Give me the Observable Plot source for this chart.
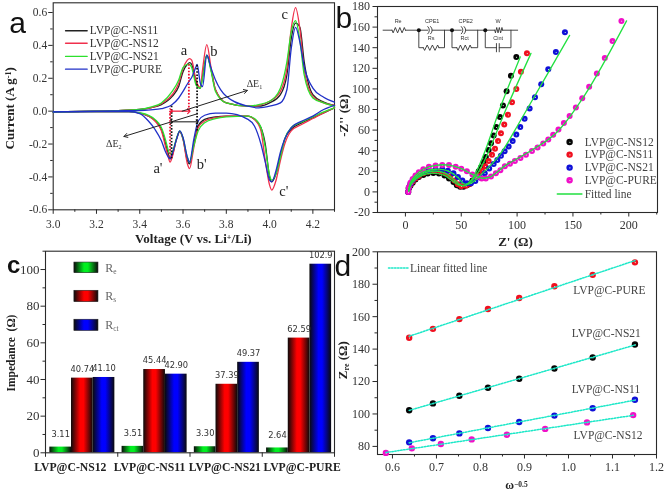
<!DOCTYPE html>
<html>
<head>
<meta charset="utf-8">
<script src="https://cdn.jsdelivr.net/npm/d3@7"></script>
<script src="https://cdn.jsdelivr.net/npm/@observablehq/plot@0.6"></script>
<style>
html,body{margin:0;padding:0;background:#fff}
#root{position:relative;width:664px;height:494px;overflow:hidden;filter:blur(.3px)}
#root svg{position:absolute;overflow:visible;background:transparent}
</style>
</head>
<body>
<div id="root"></div>
<script>
// ---------- panel a: cyclic voltammetry ----------
const anodicV = [3.0,3.2,3.3,3.4,3.45,3.5,3.55,3.58,3.6,3.62,3.63,3.64,3.66,3.665,3.68,3.69,3.71,3.73,3.75,3.8,3.9,3.95,4.0,4.05,4.08,4.1,4.12,4.14,4.16,4.2,4.25,4.3];
const anodicNS11 = [-.005,0,.003,.01,.02,.04,.09,.15,.24,.285,.295,.285,.18,.16,.14,.21,.34,.25,.13,.05,.03,.03,.05,.1,.22,.44,.535,.51,.3,.1,.055,.035];
const anodicNS12 = [-.005,0,.003,.01,.02,.045,.1,.17,.26,.31,.32,.31,.19,.17,.145,.25,.405,.26,.13,.05,.03,.035,.06,.12,.26,.5,.63,.5,.25,.09,.05,.035];
const anodicNS21 = [-.005,0,.003,.01,.025,.05,.12,.19,.265,.285,.285,.265,.16,.15,.14,.2,.34,.24,.12,.05,.03,.04,.06,.14,.3,.48,.55,.43,.22,.08,.05,.03];
const anodicPURE = [-.005,0,.002,.004,.008,.015,.04,.08,.12,.165,.185,.205,.27,.285,.17,.15,.34,.26,.19,.09,.03,.02,.03,.05,.13,.38,.51,.42,.27,.14,.085,.055];
const cathodicV = [3.0,3.2,3.35,3.4,3.44,3.47,3.5,3.52,3.53,3.54,3.55,3.57,3.585,3.6,3.62,3.63,3.65,3.67,3.7,3.75,3.8,3.9,3.93,3.96,3.98,4.0,4.01,4.03,4.05,4.07,4.1,4.15,4.2,4.25,4.3];
const cathodicNS11 = [-.005,-.003,-.003,-.012,-.03,-.055,-.11,-.2,-.25,-.29,-.27,-.17,-.125,-.17,-.3,-.32,-.2,-.09,-.05,-.035,-.03,-.03,-.05,-.1,-.2,-.4,-.43,-.38,-.27,-.17,-.11,-.07,-.04,-.01,.02];
const cathodicNS12 = [-.005,-.003,-.003,-.012,-.03,-.06,-.12,-.22,-.27,-.31,-.28,-.17,-.125,-.17,-.32,-.35,-.22,-.1,-.06,-.04,-.03,-.03,-.05,-.12,-.3,-.45,-.48,-.42,-.3,-.2,-.12,-.08,-.045,-.01,.02];
const cathodicNS21 = [-.005,-.003,-.003,-.01,-.025,-.05,-.1,-.18,-.23,-.26,-.25,-.165,-.12,-.165,-.28,-.31,-.21,-.12,-.07,-.045,-.035,-.03,-.045,-.1,-.22,-.39,-.42,-.38,-.28,-.17,-.1,-.065,-.035,-.005,.02];
const cathodicPURE = [-.005,-.003,-.002,-.015,-.06,-.11,-.18,-.25,-.275,-.29,-.26,-.17,-.12,-.16,-.28,-.31,-.17,-.06,-.025,-.012,-.012,-.05,-.09,-.2,-.31,-.42,-.43,-.36,-.25,-.17,-.1,-.06,-.03,.01,.035];
const cvNames = ["LVP@C-NS11","LVP@C-NS12","LVP@C-NS21","LVP@C-PURE"];
const cvColors = ["#222222","#f0304c","#2de02d","#2030c8"];
const cvAnodic = [anodicNS11,anodicNS12,anodicNS21,anodicPURE];
const cvCathodic = [cathodicNS11,cathodicNS12,cathodicNS21,cathodicPURE];
const cvLegendY = [.489,.413,.333,.255];
const cvPeakText = [["a",3.604,.369],["b",3.743,.365],["c",4.07,.59],["a'",3.484,-.35],["b'",3.686,-.325],["c'",4.066,-.486]];

// ---------- panel b: Nyquist ----------
const nyNames = ["LVP@C-NS12","LVP@C-NS11","LVP@C-NS21","LVP@C-PURE"];
const nyBalls = ["ballK","ballR","ballB","ballM"];
const nyNS12 = [[2.5,0],[3,3],[4.5,6],[6.5,9],[9,12],[12,14.5],[16,16.5],[20,17.8],[25,18.3],[30,17.8],[35,16],[39,13],[43,9.5],[46,6.5],[49,5],[52,5],[55,6.5],[57,7.5],[60,11],[63,15.6],[65.6,20],[67.7,24],[70,29],[72,34],[74.5,40.7],[76.6,47.2],[79,54.7],[81.4,62.9],[84.6,72.6],[87.3,84],[90.6,97.7],[94.5,112.7],[99.3,131]];
const nyNS11 = [[2.5,0],[3,3.5],[4.5,7],[6.5,10],[9,13],[12,15.5],[16,18],[21,19.7],[26,20.3],[31,19.8],[36,18],[40,15],[44,11],[47,7.5],[50,5.5],[54.2,5.9],[58,8],[61.7,11.4],[65.3,15.6],[68.6,20.5],[71.5,25],[74.5,30],[77.5,36],[80.2,42],[82.9,49.5],[85.5,57],[88.5,65.5],[91.8,75],[95.4,87],[99.3,100],[103.4,116.6],[108.8,134.5]];
const nyNS21 = [[2.5,0],[3,4],[4.5,8],[6.5,11.5],[9,14.5],[12,17],[16,19.5],[21,21.3],[27,22],[33,22],[38,20.5],[43,18],[47,14.5],[51,11],[55,8.5],[58.7,8.5],[62.6,10.7],[66.8,14],[71,18],[75,22.8],[79,27],[82.3,31],[85.5,35],[88.8,39.4],[92.4,44],[96,49.5],[99.3,55.7],[102.8,63],[106.7,71],[111.2,81],[116,92],[121.6,104.5],[127.9,119],[134.7,135.8],[142.8,155]];
const nyPURE = [[2.5,0],[3,4.5],[4.5,9],[6.5,12.5],[9,16],[12,19],[16,22],[21,24.3],[27,25.7],[33,26.2],[39,26],[45,24.5],[50,22.5],[55,20],[60,17],[64,14.5],[68.3,13],[72,13],[76.6,15],[81,18],[85,21],[89,24.8],[93.6,27.4],[98,30],[103,33],[107.9,36],[113.3,39.7],[118.3,43],[123.4,47],[127.9,50.8],[132.3,55.4],[137,60.6],[141.9,66.8],[147,73.6],[152.6,82],[158.3,91],[164.5,102],[171.4,115],[178.5,130],[185.4,146.6],[193.4,166]];
const fitNS12 = [[3,1],[4.5,6],[9,12],[16,16.5],[25,18.3],[35,16],[43,10],[48,6.5],[52.8,6],[60,13],[70,36],[85,82],[102.8,131]];
const fitNS11 = [[3,1],[4.5,7],[9,13],[16,18],[26,20.3],[36,18],[44,11.5],[49,7],[53,6],[62,14],[72,33],[88,75],[112.4,134.5]];
const fitNS21 = [[3,1],[4.5,8],[9,14.5],[16,19.5],[27,22],[38,20.5],[47,14],[52,8],[58,8],[68,17],[85,37],[105,73],[147,152]];
const fitPURE = [[3,1],[4.5,9],[9,16],[16,22],[27,25.7],[39,26],[50,22.5],[60,17],[68,13.5],[75,14],[90,26],[110,38.5],[134.7,57],[160,93],[198,166]];
const nyFits = [fitNS12,fitNS11,fitNS21,fitPURE];
const nyLegendY = [48.5,36.2,23.6,11.3];

// ---------- panel c: impedance bars ----------
const impSamples = ["LVP@C-NS12","LVP@C-NS11","LVP@C-NS21","LVP@C-PURE"];
const impRe = [3.11,3.51,3.30,2.64];
const impRs = [40.74,45.44,37.39,62.59];
const impRct = [41.10,42.90,49.37,102.9];
const impLabels = [["3.11","40.74","41.10"],["3.51","45.44","42.90"],["3.30","37.39","49.37"],["2.64","62.59","102.9"]];
const impSeries = ["R_{e}","R_{s}","R_{ct}"];
const impFills = ["url(#barG)","url(#barR)","url(#barB)"];
const impLabelShift = [-12,-5,-2,3];

// ---------- panel d: Warburg fits ----------
const wOmegaA = [.638,.692,.752,.817,.888,.968,1.055,1.151];
const wOmegaB = [.585,.644,.71,.78,.86,.947,1.042,1.147];
const wPURE = [147,152.5,158.5,164.7,171.5,178.8,185.8,193.5];
const wNS21 = [102.3,106.5,111.2,116.2,121.7,128,134.8,142.8];
const wNS11 = [82.5,85,88,91.3,95,99,103.5,108.8];
const wNS12 = [76,78.8,81.5,84.3,87.2,90.8,94.8,99.3];
const wLabels = [["LVP@C-PURE",1.093,176.3],["LVP@C-NS21",1.086,150],["LVP@C-NS11",1.085,115],["LVP@C-NS12",1.09,86.6]];

// ---------- shared ----------
const serif = "Liberation Serif";
const ink = "#2a2a2a";
const root = document.getElementById("root");

// gradients
const NS = "http://www.w3.org/2000/svg";
const defsSvg = d3.select(root).append("svg").attr("width",0).attr("height",0);
const defs = defsSvg.append("defs");
[["barG","#00f020"],["barR","#ff0000"],["barB","#0000ff"]].forEach(([id,c])=>{
  const g = defs.append("linearGradient").attr("id",id).attr("x1",0).attr("x2",1).attr("y1",0).attr("y2",0);
  g.append("stop").attr("offset","0").attr("stop-color","#0a0a0a");
  g.append("stop").attr("offset",".42").attr("stop-color",c);
  g.append("stop").attr("offset",".58").attr("stop-color",c);
  g.append("stop").attr("offset","1").attr("stop-color","#0a0a0a");
});
[["ballK","#050505"],["ballR","#f01020"],["ballB","#1010d8"],["ballM","#f010c8"]].forEach(([id,c])=>{
  const g = defs.append("radialGradient").attr("id",id).attr("cx",.55).attr("cy",.55).attr("r",.55);
  g.append("stop").attr("offset","0").attr("stop-color","#d8ffe0");
  g.append("stop").attr("offset",".28").attr("stop-color",c);
  g.append("stop").attr("offset","1").attr("stop-color",c);
});

function rich(svg){
  svg.querySelectorAll("text").forEach(t=>{
    const s = t.textContent;
    if(!/[\^_]\{/.test(s)) return;
    t.textContent = "";
    s.split(/([\^_]\{[^}]*\})/).forEach(p=>{
      if(!p) return;
      const sp = document.createElementNS(NS,"tspan");
      const m = p.match(/^([\^_])\{([^}]*)\}$/);
      if(m){
        sp.textContent = m[2];
        sp.setAttribute("font-size","0.62em");
        sp.setAttribute("baseline-shift", m[1]==="^" ? "35%" : "-25%");
      } else sp.textContent = p;
      t.appendChild(sp);
    });
  });
}

function place(svg,left,top){
  svg.style.left = left+"px";
  svg.style.top = top+"px";
  rich(svg);
  root.appendChild(svg);
}

const axes = (xT,xM,yT,yM,xF,yF,size,xPad=3,yPad=3) => [
  Plot.axisX({ticks:xM,tickSize:2.5,fill:"none",label:null,stroke:ink}),
  Plot.axisY({ticks:yM,tickSize:2.5,fill:"none",label:null,stroke:ink}),
  Plot.axisX({ticks:xT,tickSize:4.5,tickPadding:xPad,tickFormat:xF,label:null,stroke:ink,fill:"#333",fontSize:size}),
  Plot.axisY({ticks:yT,tickSize:4.5,tickPadding:yPad,tickFormat:yF,label:null,stroke:ink,fill:"#333",fontSize:size}),
  Plot.frame({stroke:ink,strokeWidth:1.1})
];
const big = (t,dx,dy,weight,size) => Plot.text([t],{text:d=>d,frameAnchor:"top-left",dx,dy,textAnchor:"start",lineAnchor:"bottom",fontFamily:"Liberation Sans",fontWeight:weight,fontSize:size,fill:"#111"});
const yTitle = (t,dx,dy,size) => Plot.text([t],{text:d=>d,frameAnchor:"left",textAnchor:"middle",dx,dy,rotate:-90,fontWeight:"bold",fontSize:size,fill:"#222"});
const f1 = d=>d.toFixed(1), f0 = d=>String(d);

// ---------- a ----------
const cvRows = [];
cvNames.forEach((n,i)=>{
  anodicV.forEach((v,k)=>cvRows.push({n,branch:n+"+",v,i:cvAnodic[i][k]}));
  cathodicV.forEach((v,k)=>cvRows.push({n,branch:n+"-",v,i:cvCathodic[i][k]}));
});
const arrowRows = [{x1:3.596,y1:0,x2:3.897,y2:.126},{x1:3.666,y1:-.016,x2:3.327,y2:-.154}];
const panelA = Plot.plot({
  width:340,height:250,marginLeft:52.7,marginRight:6,marginTop:2.3,marginBottom:40.7,
  style:{fontFamily:serif,fontSize:"11.5px",background:"transparent"},
  x:{domain:[3,4.3]},y:{domain:[-.6,.659]},
  marks:[
    ...axes(d3.range(3,4.21,.2),d3.range(3.1,4.31,.2),d3.range(-.6,.61,.2),d3.range(-.5,.65,.2),f1,d=>Math.abs(d)<1e-6?"0.0":d.toFixed(1),11.5,6,1.5),
    ...cvNames.map((n,i)=>Plot.line(cvRows.filter(d=>d.n===n),{x:"v",y:"i",z:"branch",stroke:cvColors[i],strokeWidth:1.3,curve:"monotone-x"})),
    Plot.ruleX([3.627],{y1:0,y2:.29,stroke:"#f01030",strokeWidth:1.8,strokeDasharray:"1.6 1.6"}),
    Plot.ruleX([3.665],{y1:-.12,y2:.28,stroke:"#111",strokeWidth:1.8,strokeDasharray:"1.6 1.6"}),
    Plot.ruleX([3.54],{y1:0,y2:-.28,stroke:"#f01030",strokeWidth:1.8,strokeDasharray:"1.6 1.6"}),
    Plot.ruleX([3.547],{y1:.03,y2:-.29,stroke:"#111",strokeWidth:1.8,strokeDasharray:"1.6 1.6"}),
    Plot.link([{x1:3.545,x2:3.627,y:0}],{x1:"x1",x2:"x2",y1:"y",y2:"y",stroke:"#f01030",strokeWidth:1.2,markerStart:"arrow",markerEnd:"arrow"}),
    Plot.link([{x1:3.547,x2:3.665,y:-.065}],{x1:"x1",x2:"x2",y1:"y",y2:"y",stroke:"#111",strokeWidth:1,markerStart:"arrow",markerEnd:"arrow"}),
    Plot.arrow(arrowRows,{x1:"x1",y1:"y1",x2:"x2",y2:"y2",bend:0,stroke:"#222",strokeWidth:1,headLength:6}),
    Plot.text(["ΔE_{1}"],{x:3.93,y:.166,text:d=>d,fontSize:10,fill:"#333"}),
    Plot.text(["ΔE_{2}"],{x:3.28,y:-.2,text:d=>d,fontSize:10,fill:"#333"}),
    Plot.text(cvPeakText,{x:d=>d[1],y:d=>d[2],text:d=>d[0],fontSize:14.5,fill:"#222"}),
    ...cvNames.map((n,i)=>Plot.line([[3.057,cvLegendY[i]],[3.157,cvLegendY[i]]],{stroke:cvColors[i],strokeWidth:1.3})),
    Plot.text(cvNames.map((n,i)=>[n,cvLegendY[i]]),{x:3.169,y:d=>d[1],text:d=>d[0],textAnchor:"start",fontSize:11.5,fill:"#333"}),
    Plot.text(["Voltage (V vs. Li^{+}/Li)"],{text:d=>d,frameAnchor:"bottom",dx:-0.5,dy:33,fontWeight:"bold",fontSize:13,fill:"#222"}),
    yTitle("Current (A g^{-1})",-43.5,2,13),
    big("a",-44,30,"normal",30)
  ]
});
place(panelA,0,0);

// ---------- b ----------
const zig = (x0,x1,y,id) => {
  const n = 6, pts = [[x0,y]];
  for(let k=0;k<n;k++) pts.push([x0+(x1-x0)*(k+.5)/n, y+(k%2?2.6:-2.6)]);
  pts.push([x1,y]);
  return {id,pts};
};
const paren = (x,y,id) => ({id,pts:[[x,y+3.5],[x+1,y+2],[x+1.4,y],[x+1,y-2],[x,y-3.5]]});
const circuit = [
  {id:"w1",pts:[[-20,157],[-12,157]]}, zig(-12,0,157,"re"), {id:"w2",pts:[[0,157],[20,157]]},
  paren(20,157,"c1a"), paren(22.5,157,"c1b"), {id:"w3",pts:[[24,157],[50,157]]},
  paren(50,157,"c2a"), paren(52.5,157,"c2b"), {id:"w4",pts:[[54,157],[80,157]]},
  zig(80,87,157,"w"), {id:"w5",pts:[[87,157],[100.5,157]]},
  {id:"b1",pts:[[12,157],[12,140],[16,140]]}, zig(16,30,140,"rs"), {id:"b2",pts:[[30,140],[35,140],[35,157]]},
  {id:"b3",pts:[[41.7,157],[41.7,140],[46,140]]}, zig(46,59,140,"rct"), {id:"b4",pts:[[59,140],[64.7,140],[64.7,157]]},
  {id:"b5",pts:[[71.5,157],[71.5,140],[81.5,140]]}, {id:"p1",pts:[[81.5,136],[81.5,144]]}, {id:"p2",pts:[[84,136],[84,144]]}, {id:"b6",pts:[[84,140],[94.5,140],[94.5,157]]}
];
const circuitRows = circuit.flatMap(c=>c.pts.map(p=>({id:c.id,x:p[0],y:p[1]})));
const circuitNames = [["Re",-6.5,166],["CPE1",24,166],["Rs",23,149],["CPE2",54,166],["Rct",53,149],["W",83,166],["Cint",83,149]];
const circuitNodes = [12,41.7,71.5];
const panelB = Plot.plot({
  width:332,height:250,marginLeft:45,marginRight:7,marginTop:6,marginBottom:38,
  style:{fontFamily:serif,fontSize:"12px",background:"transparent"},
  x:{domain:[-25,225.7]},y:{domain:[-20,180]},
  marks:[
    ...axes(d3.range(0,201,50),d3.range(25,226,50),d3.range(-20,181,20),d3.range(-10,171,20),f0,f0,12),
    Plot.line(circuitRows,{x:"x",y:"y",z:"id",stroke:"#333",strokeWidth:.9}),
    Plot.dot(circuitNodes,{x:d=>d,y:157,r:2,fill:"#111"}),
    Plot.text(circuitNames,{x:d=>d[1],y:d=>d[2],text:d=>d[0],fontFamily:"Liberation Sans",fontSize:5.5,fill:"#333"}),
    ...[nyNS12,nyNS11,nyNS21,nyPURE].map((s,i)=>Plot.dot(s,{x:d=>d[0],y:d=>d[1],r:3,fill:`url(#${nyBalls[i]})`})),
    ...nyFits.map(s=>Plot.line(s,{x:d=>d[0],y:d=>d[1],stroke:"#22e040",strokeWidth:1.3,curve:"catmull-rom"})),
    ...nyNames.map((n,i)=>Plot.dot([nyLegendY[i]],{x:147,y:d=>d,r:3.2,fill:`url(#${nyBalls[i]})`})),
    Plot.text(nyNames.map((n,i)=>[n,nyLegendY[i]]),{x:160.5,y:d=>d[1],text:d=>d[0],textAnchor:"start",fontSize:11.5,fill:"#444"}),
    Plot.line([[136,-2],[158,-2]],{stroke:"#22e040",strokeWidth:1.5}),
    Plot.text([["Fitted line",-2]],{x:160.5,y:d=>d[1],text:d=>d[0],textAnchor:"start",fontSize:11.5,fill:"#444"}),
    Plot.text(["Z' (Ω)"],{text:d=>d,frameAnchor:"bottom",dy:33,dx:-2,fontWeight:"bold",fontSize:13,fill:"#222"}),
    yTitle("-Z'' (Ω)",-34,6,13),
    big("b",-42,21,"normal",30)
  ]
});
place(panelB,332,0);

// ---------- c ----------
const impValues = [impRe,impRs,impRct];
const impRows = impSamples.flatMap((s,g)=>impValues.map((vals,k)=>({s,g,k,v:vals[g],label:impLabels[g][k]})));
const panelC = Plot.plot({
  width:340,height:244,marginLeft:45,marginRight:6,marginTop:.7,marginBottom:41.7,
  style:{fontFamily:serif,fontSize:"13px",background:"transparent"},
  x:{domain:[0,4]},y:{domain:[0,110]},
  marks:[
    ...impSeries.map((n,k)=>Plot.rectY(impRows.filter(d=>d.k===k),{x1:d=>d.g+.06+d.k*.3,x2:d=>d.g+.06+(d.k+1)*.3,y1:0,y2:"v",fill:impFills[k]})),
    ...axes([0,1,2,3,4],[],d3.range(0,101,20),d3.range(10,111,20),()=>"",f0,13,3,1.5),
    Plot.text(impRows.filter(d=>d.k>0),{x:d=>d.g+.06+(d.k+.5)*.3,y:"v",text:"label",dy:-9,fontFamily:"DejaVu Sans",fontSize:8.3,fill:"#333"}),
    Plot.text(impRows.filter(d=>d.k===0),{x:d=>d.g+.06+(d.k+.5)*.3,y:"v",text:"label",dy:-13,fontFamily:"DejaVu Sans",fontSize:8.3,fill:"#333"}),
    ...impSamples.map((s,g)=>Plot.text([s],{x:g+.51,y:0,text:d=>d,dx:impLabelShift[g],dy:14,fontWeight:"bold",fontSize:11.7,fill:"#222"})),
    ...impSeries.map((n,k)=>Plot.rectY([n],{x1:.4,x2:.733,y1:[98,82.2,66.5][k],y2:[103.8,88.4,72.6][k],fill:impFills[k],stroke:"#222",strokeWidth:.6})),
    Plot.text(impSeries.map((n,k)=>[n,[100.9,85.3,69.5][k]]),{x:.826,y:d=>d[1],text:d=>d[0],textAnchor:"start",fontSize:12,fill:"#666"}),
    yTitle("Impedance  (Ω)",-34,1,11.5),
    big("c",-38.5,21.5,"bold",24)
  ]
});
place(panelC,0,250);

// ---------- d ----------
const wSeries = [
  {omega:wOmegaA,z:wPURE,ball:"ballR"},
  {omega:wOmegaA,z:wNS21,ball:"ballK"},
  {omega:wOmegaA,z:wNS11,ball:"ballB"},
  {omega:wOmegaB,z:wNS12,ball:"ballM"}
];
const fitColor = "#1de8c8";
const panelD = Plot.plot({
  width:332,height:244,marginLeft:45,marginRight:8,marginTop:1.3,marginBottom:40,
  style:{fontFamily:serif,fontSize:"12px",background:"transparent"},
  x:{domain:[.566,1.2]},y:{domain:[75,200]},
  marks:[
    ...axes(d3.range(.6,1.21,.1),d3.range(.65,1.2,.1),d3.range(80,201,20),d3.range(90,191,20),f1,f0,12),
    ...wSeries.map(s=>Plot.dot(s.omega,{x:d=>d,y:(d,i)=>s.z[i],r:3.2,fill:`url(#${s.ball})`})),
    ...wSeries.map(s=>Plot.linearRegressionY(s.omega.map((o,i)=>[o,s.z[i]]),{x:d=>d[0],y:d=>d[1],ci:0,stroke:fitColor,strokeWidth:1.5,strokeDasharray:"1.5 1.5"})),
    Plot.line([[.591,190],[.636,190]],{stroke:fitColor,strokeWidth:1.5,strokeDasharray:"1.5 1.5"}),
    Plot.text([["Linear fitted line",.64,190]],{x:d=>d[1],y:d=>d[2],text:d=>d[0],textAnchor:"start",fontSize:11.5,fill:"#444"}),
    Plot.text(wLabels,{x:d=>d[1],y:d=>d[2],text:d=>d[0],fontSize:11.5,fill:"#444"}),
    Plot.text(["ω^{−0.5}"],{text:d=>d,frameAnchor:"bottom",dy:34,dx:-.5,fontWeight:"bold",fontSize:12,fill:"#222"}),
    yTitle("Z_{re} (Ω)",-35,7,13),
    big("d",-43,24,"normal",30)
  ]
});
place(panelD,332,250);
</script>
</body>
</html>
